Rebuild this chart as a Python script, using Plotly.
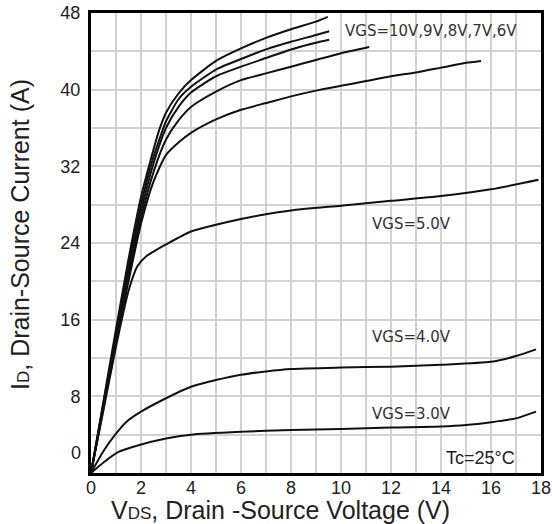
import plotly.graph_objects as go

# ---- data ----
V10 = [0, 0.5, 1, 1.5, 2, 2.4, 2.73, 3, 3.5, 4, 5, 6, 7, 8, 9, 9.47]
I10 = [0, 7.5, 15.0, 22.3, 28.8, 32.8, 35.8, 37.6, 39.6, 41.0, 43.0, 44.3, 45.4, 46.3, 47.1, 47.6]

V9 = [0, 0.5, 1, 1.5, 2, 2.5, 2.8, 3, 3.5, 4, 5, 6, 7, 8, 9, 9.53]
I9 = [0, 7.3, 14.5, 21.6, 28.0, 33.0, 35.3, 36.7, 39.0, 40.3, 42.1, 43.2, 44.2, 45.0, 45.7, 46.1]

V8 = [0, 0.5, 1, 1.5, 2, 2.5, 3, 3.5, 4, 5, 6, 7, 8, 9, 9.53]
I8 = [0, 7.1, 14.2, 21.0, 27.3, 32.3, 36.0, 38.2, 39.7, 41.4, 42.4, 43.3, 44.2, 44.9, 45.2]

V7 = [0, 0.5, 1, 1.5, 2, 2.5, 3, 3.5, 4, 5, 6, 7, 8, 9, 10, 11.13]
I7 = [0, 7.0, 13.9, 20.5, 26.6, 31.4, 34.8, 36.8, 38.2, 39.8, 41.0, 41.7, 42.4, 43.1, 43.8, 44.45]

V6 = [0, 0.5, 1, 1.5, 2, 2.5, 3, 3.5, 4, 5, 6, 7, 8, 9, 10, 11, 12, 13, 14, 15, 15.6]
I6 = [0, 6.8, 13.5, 20.0, 26.0, 30.4, 33.2, 34.5, 35.5, 36.9, 37.9, 38.6, 39.3, 39.9, 40.4, 40.9, 41.4, 41.8, 42.3, 42.8, 43.0]

V5 = [0, 0.5, 1, 1.5, 1.86, 2.2, 2.5, 3, 4, 5, 6, 7, 8, 10, 12, 14, 16, 17.9]
I5 = [0, 6.6, 13.2, 19.0, 21.6, 22.6, 23.1, 23.85, 25.2, 25.9, 26.5, 27.0, 27.4, 27.9, 28.4, 28.9, 29.6, 30.6]

V4 = [0, 0.5, 1, 1.4, 2, 3, 4, 5, 6, 7, 8, 10, 12, 14, 16, 17, 17.8]
I4 = [0, 2.3, 4.1, 5.3, 6.4, 7.8, 9.0, 9.7, 10.25, 10.6, 10.85, 11.0, 11.1, 11.3, 11.6, 12.2, 12.9]

V3 = [0, 0.5, 1.1, 1.9, 3, 4, 6, 8, 10, 12, 14, 15, 16, 17, 17.8]
I3 = [0, 1.1, 2.2, 2.9, 3.6, 4.0, 4.3, 4.5, 4.6, 4.75, 4.85, 5.0, 5.3, 5.7, 6.4]

series = [(V10, I10), (V9, I9), (V8, I8), (V7, I7), (V6, I6), (V5, I5), (V4, I4), (V3, I3)]

x_ticks = list(range(0, 19))
x_ticktext = [str(v) if v % 2 == 0 else "" for v in x_ticks]
y_ticks = list(range(0, 49, 4))
y_ticktext = [str(v) if (v % 8 == 0 and v != 0) else "" for v in y_ticks]

fig = go.Figure()
for vx, iy in series:
    fig.add_trace(go.Scatter(x=vx, y=iy, mode="lines",
                             line=dict(color="#111111", width=2, shape="spline", smoothing=0.6),
                             showlegend=False, hoverinfo="skip"))

axis_common = dict(showline=True, mirror=True, linecolor="black", linewidth=3,
                   showgrid=True, gridcolor="#d2d2d2", gridwidth=2, zeroline=False,
                   automargin=False, ticks="",
                   tickfont=dict(family="Liberation Sans, Arial", size=18, color="#222"))

fig.update_xaxes(range=[0, 18], tickvals=x_ticks, ticktext=x_ticktext, ticklabelstandoff=-4, **axis_common)
fig.update_yaxes(range=[0, 48], tickvals=y_ticks, ticktext=y_ticktext, ticklabelstandoff=4, **axis_common)

lab = dict(family="DejaVu Sans", size=15, color="#333")
ann = [
    dict(x=10.08, y=46.1, text="VGS=10V,9V,8V,7V,6V", xanchor="left", yanchor="middle", font=lab),
    dict(x=11.16, y=26.0, text="VGS=5.0V", xanchor="left", yanchor="middle", font=lab),
    dict(x=11.16, y=14.2, text="VGS=4.0V", xanchor="left", yanchor="middle", font=lab),
    dict(x=11.16, y=6.16, text="VGS=3.0V", xanchor="left", yanchor="middle", font=lab),
    dict(x=14.12, y=1.6, text="Tc=25°C", xanchor="left", yanchor="middle",
         font=dict(family="Liberation Sans, Arial", size=18, color="#222")),
]
for a in ann:
    a.update(xref="x", yref="y", showarrow=False)
    fig.add_annotation(**a)

# offset "0" label on the y axis
fig.add_annotation(xref="paper", yref="paper", x=-0.0178, y=(473 - 453) / 460, text="0",
                   xanchor="right", yanchor="middle", showarrow=False,
                   font=dict(family="Liberation Sans, Arial", size=18, color="#222"))

title_font = dict(family="Liberation Sans, Arial", size=25, color="#222")
fig.add_annotation(xref="paper", yref="paper", x=(280 - 91) / 450, y=(473 - 510) / 460,
                   text="V<span style='font-size:17px'>DS</span>, Drain -Source Voltage (V)",
                   xanchor="center", yanchor="middle", showarrow=False, font=title_font)
fig.add_annotation(xref="paper", yref="paper", x=(20 - 91) / 450, y=(473 - 235) / 460,
                   text="I<span style='font-size:17px'>D</span>, Drain-Source Current (A)",
                   textangle=-90, xanchor="center", yanchor="middle", showarrow=False, font=title_font)

fig.update_layout(width=552, height=524, margin=dict(l=91, r=11, t=13, b=51, autoexpand=False),
                  paper_bgcolor="white", plot_bgcolor="white")

fig.write_html("out.html")
